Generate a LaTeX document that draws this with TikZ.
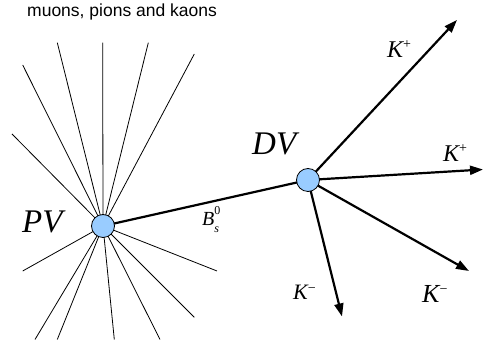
\documentclass[tikz,border=0pt]{standalone}
\usepackage{fontspec}
\setmainfont{Liberation Serif}
\newfontfamily\labelsans{Liberation Sans}
\usetikzlibrary{arrows.meta}
\definecolor{vtxblue}{RGB}{153,204,255}
\tikzset{
  fanline/.style={draw=black, line width=0.8pt},
  track/.style={draw=black, line width=2.2pt, -{Triangle[length=13pt,width=9pt]}},
  bline/.style={draw=black, line width=2.2pt},
  vertex/.style={circle, draw=black, line width=0.8pt, fill=vtxblue, minimum size=23pt, inner sep=0pt},
  biglbl/.style={anchor=base west, inner sep=0pt, font=\fontsize{33}{38}\selectfont\itshape},
  klbl/.style={anchor=base west, inner sep=0pt, font=\fontsize{24}{28}\selectfont\itshape},
  toplbl/.style={anchor=base west, inner sep=0pt, font=\labelsans\fontsize{17.5}{20}\selectfont}
}
\newcommand{\Kp}{K\textsuperscript{\upshape\fontsize{14}{14}\selectfont +}}
\newcommand{\Km}{K\textsuperscript{\upshape\fontsize{14}{14}\selectfont −}}
\begin{document}
\begin{tikzpicture}[x=1pt,y=-1pt]
\useasboundingbox (0,0) rectangle (483,344);
% vertices
\coordinate (pvc) at (103,226);
\coordinate (dvc) at (308,180);
% fan endpoints
\coordinate (f1) at (12,134);
\coordinate (f2) at (22.7,65);
\coordinate (f3) at (57.3,42.7);
\coordinate (f4) at (102.7,42.7);
\coordinate (f5) at (148.3,42.7);
\coordinate (f6) at (194.3,54);
\coordinate (f7) at (22.7,271);
\coordinate (f8) at (35,339.5);
\coordinate (f9) at (57.3,339.5);
\coordinate (f10) at (114.3,339.5);
\coordinate (f11) at (160,339.5);
\coordinate (f12) at (194.3,317.3);
\coordinate (f13) at (217,271);
\foreach \i in {1,...,13} \draw[fanline] (pvc) -- (f\i);
% track endpoints
\coordinate (t1) at (457,20);
\coordinate (t2) at (483,169.5);
\coordinate (t3) at (342,316.5);
\coordinate (t4) at (469,271);
\draw[bline] (pvc) -- (dvc);
\foreach \i in {1,...,4} \draw[track] (dvc) -- (t\i);
\node[vertex] (pv) at (pvc) {};
\node[vertex] (dv) at (dvc) {};
% labels
\node[toplbl] (top) at (27,16.7) {muons, pions and kaons};
\node[biglbl] (pvl) at (22,233) {PV};
\node[biglbl] (dvl) at (252,155) {DV};
\node[klbl] (k1) at (387,58) {\Kp};
\node[klbl] (k2) at (443,162) {\Kp};
\node[klbl, font=\fontsize{22}{26}\selectfont\itshape] (k3) at (293,300) {\Km};
\node[klbl, font=\fontsize{26}{30}\selectfont\itshape] (k4) at (422,303) {\Km};
\node[anchor=base west, inner sep=0pt, font=\fontsize{20}{24}\selectfont\itshape] (bs) at (202,226)
  {B\rlap{\raisebox{0.55em}{\upshape\fontsize{12}{12}\selectfont 0}}\raisebox{-0.35em}{\fontsize{12}{12}\selectfont s}};
\end{tikzpicture}
\end{document}
